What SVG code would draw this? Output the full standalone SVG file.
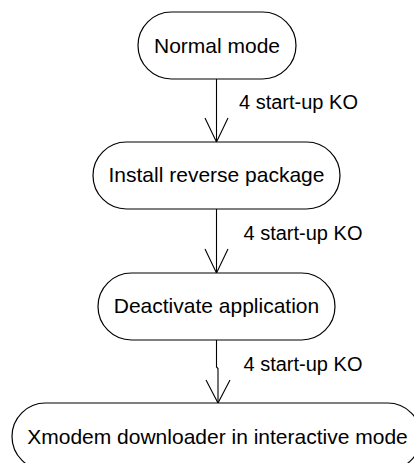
<svg xmlns="http://www.w3.org/2000/svg" width="414" height="463" viewBox="0 0 414 463">
<style>
.node{fill:#fff;stroke:#000;stroke-width:1.2}
.nt{font-family:"Liberation Sans",Arial,sans-serif;font-size:21px;fill:#000;text-anchor:middle}
.lbl{font-family:"Liberation Sans",Arial,sans-serif;font-size:20px;fill:#000}
.edge{fill:none;stroke:#000;stroke-width:1.1}
</style>
<rect width="414" height="463" fill="#fff"/>
<g id="connectors">
<path class="edge" d="M216.5 79V142"/>
<path class="edge" d="M205 118L216.5 142L228 118"/>
<path class="edge" d="M216.5 209V273"/>
<path class="edge" d="M205 249L216.5 273L228 249"/>
<path class="edge" d="M216.5 340V367L218 368.5V403"/>
<path class="edge" d="M206 380L218 403L230 380"/>
<text class="lbl" x="239" y="109">4 start-up KO</text>
<text class="lbl" x="243.5" y="240">4 start-up KO</text>
<text class="lbl" x="243.5" y="371">4 start-up KO</text>
</g>
<g id="normal-mode">
<rect class="node" x="138" y="12" width="158" height="67" rx="33.5" ry="33.5"/>
<text class="nt" x="217" y="52.5">Normal mode</text>
</g>
<g id="install-reverse-package">
<rect class="node" x="93" y="142" width="247" height="67" rx="33.5" ry="33.5"/>
<text class="nt" x="216.5" y="182">Install reverse package</text>
</g>
<g id="deactivate-application">
<rect class="node" x="98" y="273" width="237" height="67" rx="33.5" ry="33.5"/>
<text class="nt" x="216.5" y="313">Deactivate application</text>
</g>
<g id="xmodem-downloader">
<rect class="node" x="12" y="403" width="409" height="67" rx="33.5" ry="33.5"/>
<text class="nt" x="217.5" y="443.5">Xmodem downloader in interactive mode</text>
</g>
</svg>
